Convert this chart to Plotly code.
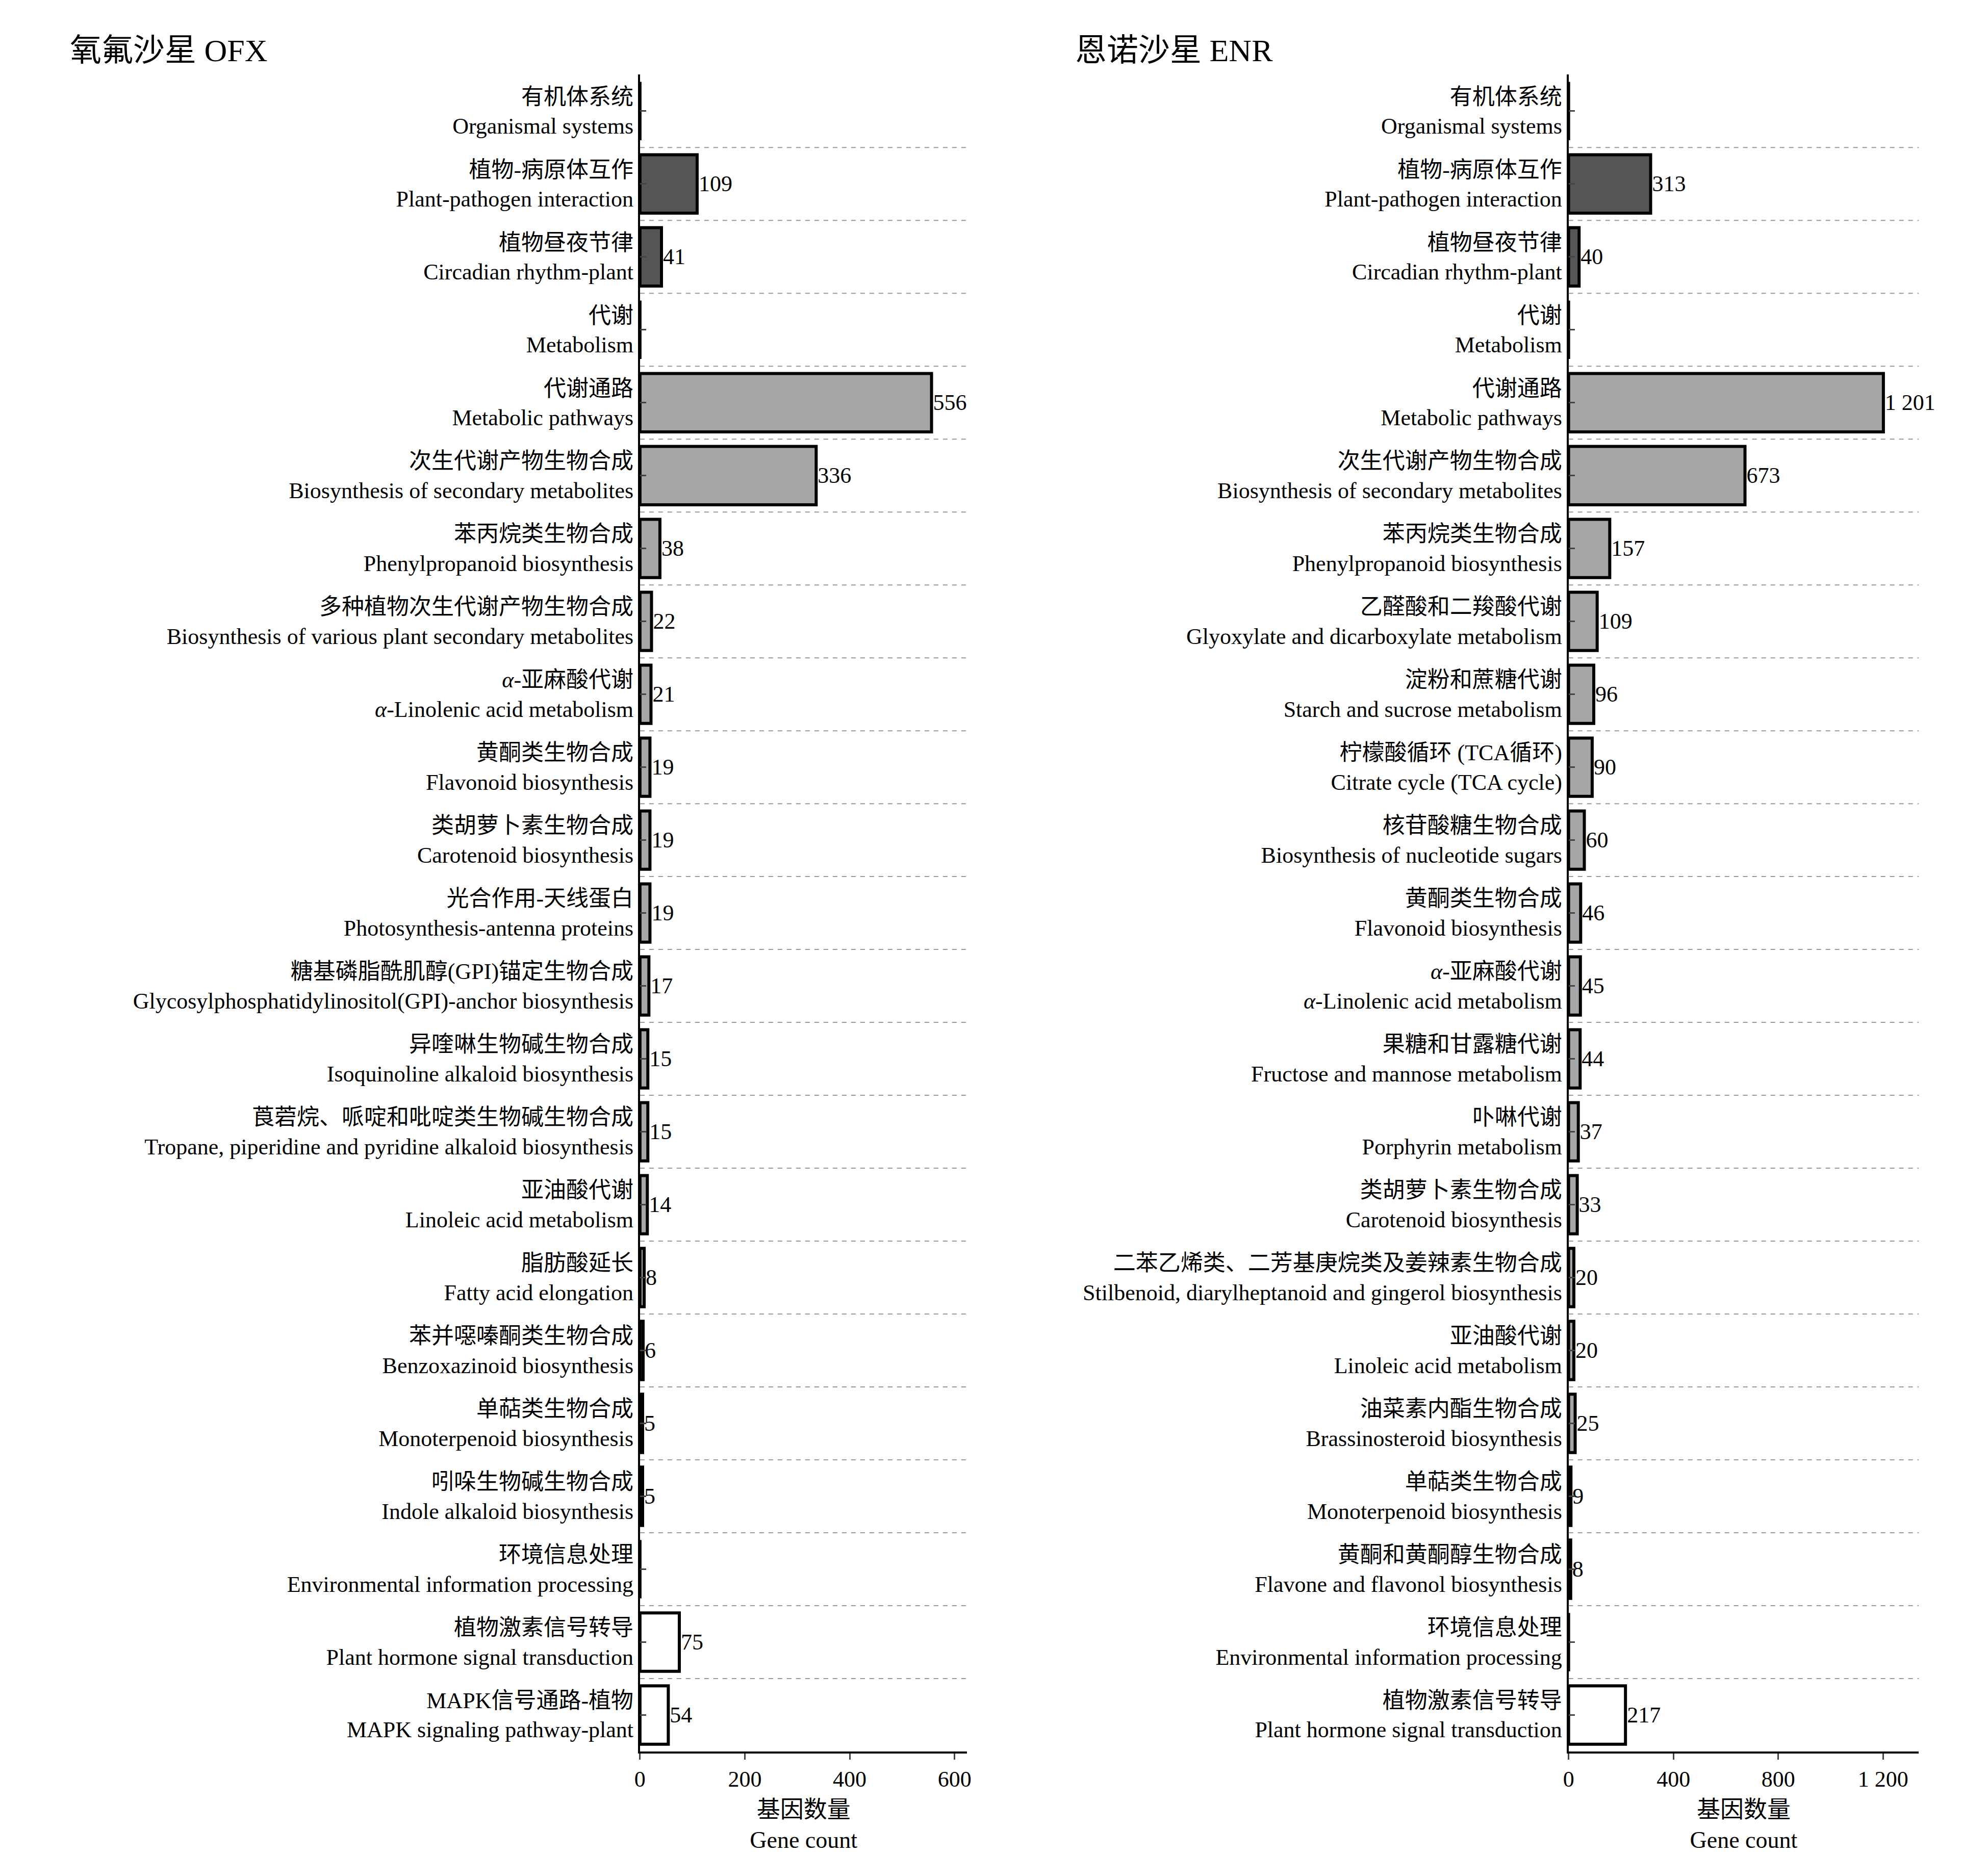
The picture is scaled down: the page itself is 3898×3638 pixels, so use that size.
import plotly.graph_objects as go

# OFX panel
ofx_cn = ["有机体系统", "植物-病原体互作", "植物昼夜节律", "代谢", "代谢通路", "次生代谢产物生物合成",
          "苯丙烷类生物合成", "多种植物次生代谢产物生物合成", "<i>α</i>-亚麻酸代谢", "黄酮类生物合成",
          "类胡萝卜素生物合成", "光合作用-天线蛋白", "糖基磷脂酰肌醇(GPI)锚定生物合成", "异喹啉生物碱生物合成",
          "莨菪烷、哌啶和吡啶类生物碱生物合成", "亚油酸代谢", "脂肪酸延长", "苯并噁嗪酮类生物合成",
          "单萜类生物合成", "吲哚生物碱生物合成", "环境信息处理", "植物激素信号转导", "MAPK信号通路-植物"]
ofx_en = ["Organismal systems", "Plant-pathogen interaction", "Circadian rhythm-plant", "Metabolism",
          "Metabolic pathways", "Biosynthesis of secondary metabolites", "Phenylpropanoid biosynthesis",
          "Biosynthesis of various plant secondary metabolites", "<i>α</i>-Linolenic acid metabolism",
          "Flavonoid biosynthesis", "Carotenoid biosynthesis", "Photosynthesis-antenna proteins",
          "Glycosylphosphatidylinositol(GPI)-anchor biosynthesis", "Isoquinoline alkaloid biosynthesis",
          "Tropane, piperidine and pyridine alkaloid biosynthesis", "Linoleic acid metabolism",
          "Fatty acid elongation", "Benzoxazinoid biosynthesis", "Monoterpenoid biosynthesis",
          "Indole alkaloid biosynthesis", "Environmental information processing",
          "Plant hormone signal transduction", "MAPK signaling pathway-plant"]
ofx_val = [None, 109, 41, None, 556, 336, 38, 22, 21, 19, 19, 19, 17, 15, 15, 14, 8, 6, 5, 5, None, 75, 54]
ofx_grp = ["O", "O", "O", "M", "M", "M", "M", "M", "M", "M", "M", "M", "M", "M", "M", "M", "M", "M",
           "M", "M", "E", "E", "E"]

# ENR panel
enr_cn = ["有机体系统", "植物-病原体互作", "植物昼夜节律", "代谢", "代谢通路", "次生代谢产物生物合成",
          "苯丙烷类生物合成", "乙醛酸和二羧酸代谢", "淀粉和蔗糖代谢", "柠檬酸循环 (TCA循环)", "核苷酸糖生物合成",
          "黄酮类生物合成", "<i>α</i>-亚麻酸代谢", "果糖和甘露糖代谢", "卟啉代谢", "类胡萝卜素生物合成",
          "二苯乙烯类、二芳基庚烷类及姜辣素生物合成", "亚油酸代谢", "油菜素内酯生物合成", "单萜类生物合成",
          "黄酮和黄酮醇生物合成", "环境信息处理", "植物激素信号转导"]
enr_en = ["Organismal systems", "Plant-pathogen interaction", "Circadian rhythm-plant", "Metabolism",
          "Metabolic pathways", "Biosynthesis of secondary metabolites", "Phenylpropanoid biosynthesis",
          "Glyoxylate and dicarboxylate metabolism", "Starch and sucrose metabolism",
          "Citrate cycle (TCA cycle)", "Biosynthesis of nucleotide sugars", "Flavonoid biosynthesis",
          "<i>α</i>-Linolenic acid metabolism", "Fructose and mannose metabolism", "Porphyrin metabolism",
          "Carotenoid biosynthesis", "Stilbenoid, diarylheptanoid and gingerol biosynthesis",
          "Linoleic acid metabolism", "Brassinosteroid biosynthesis", "Monoterpenoid biosynthesis",
          "Flavone and flavonol biosynthesis", "Environmental information processing",
          "Plant hormone signal transduction"]
enr_val = [None, 313, 40, None, 1201, 673, 157, 109, 96, 90, 60, 46, 45, 44, 37, 33, 20, 20, 25, 9, 8, None, 217]
enr_grp = ["O", "O", "O", "M", "M", "M", "M", "M", "M", "M", "M", "M", "M", "M", "M", "M", "M", "M",
           "M", "M", "M", "E", "E"]

ofx_ticks = [0, 200, 400, 600]
enr_ticks = [0, 400, 800, 1200]

colors = {"O": "#555555", "M": "#a6a6a6", "E": "#ffffff"}
FONT = "Liberation Serif, Noto Sans CJK SC"
W, H = 3898, 3638


def fmt(v):
    return "" if v is None else f"{v:,}".replace(",", " ")


fig = go.Figure()
panels = [
    (ofx_cn, ofx_en, ofx_val, ofx_grp, ofx_ticks, 624, "x", "y", [0.3186, 0.484], "氧氟沙星 OFX", 0.03),
    (enr_cn, enr_en, enr_val, enr_grp, enr_ticks, 1336, "x2", "y2", [0.788, 0.965], "恩诺沙星 ENR", 0.538),
]
layout = {}
for i, (cn, en, val, grp, ticks, xmax, xr, yr, dom, title, tx) in enumerate(panels):
    n = len(cn)
    ys = list(range(n))
    fig.add_trace(go.Bar(
        x=[0 if v is None else v for v in val], y=ys, orientation="h", xaxis=xr, yaxis=yr,
        marker=dict(color=[colors[g] for g in grp], line=dict(color="black", width=6)),
        width=0.8, text=[fmt(v) for v in val], textposition="outside", cliponaxis=False,
        textfont=dict(family=FONT, size=44, color="black"), showlegend=False,
    ))
    sfx = "" if i == 0 else "2"
    layout["xaxis" + sfx] = dict(
        domain=dom, range=[0, xmax], anchor=yr, showline=True, linecolor="black", linewidth=4,
        ticks="outside", ticklen=12, tickwidth=3, tickvals=ticks, ticktext=[fmt(t) for t in ticks],
        tickfont=dict(family=FONT, size=44, color="black"), showgrid=False, zeroline=False,
        title=dict(text="基因数量<br>Gene count", font=dict(family=FONT, size=46, color="black"), standoff=20),
    )
    layout["yaxis" + sfx] = dict(
        domain=[0.058, 0.962], range=[n - 0.5, -0.5], anchor=xr, showline=True, linecolor="black",
        linewidth=4, ticks="inside", ticklen=12, tickwidth=3, tickvals=ys,
        ticktext=[f"{c}<br>{e}" for c, e in zip(cn, en)], showgrid=False, zeroline=False,
        tickfont=dict(family=FONT, size=44, color="black"),
    )
    for k in range(n - 1):
        fig.add_shape(type="line", xref=xr + " domain", yref=yr, x0=0, x1=1, y0=k + 0.5, y1=k + 0.5,
                      line=dict(color="#999999", width=2, dash="dash"))
    fig.add_annotation(text=title, xref="paper", yref="paper", x=tx, y=0.975, xanchor="left",
                       yanchor="middle", showarrow=False, font=dict(family=FONT, size=62, color="black"))

fig.update_layout(width=W, height=H, margin=dict(l=0, r=0, t=0, b=0), plot_bgcolor="white",
                  paper_bgcolor="white", bargap=0.2, **layout)
fig.write_html("out.html")
